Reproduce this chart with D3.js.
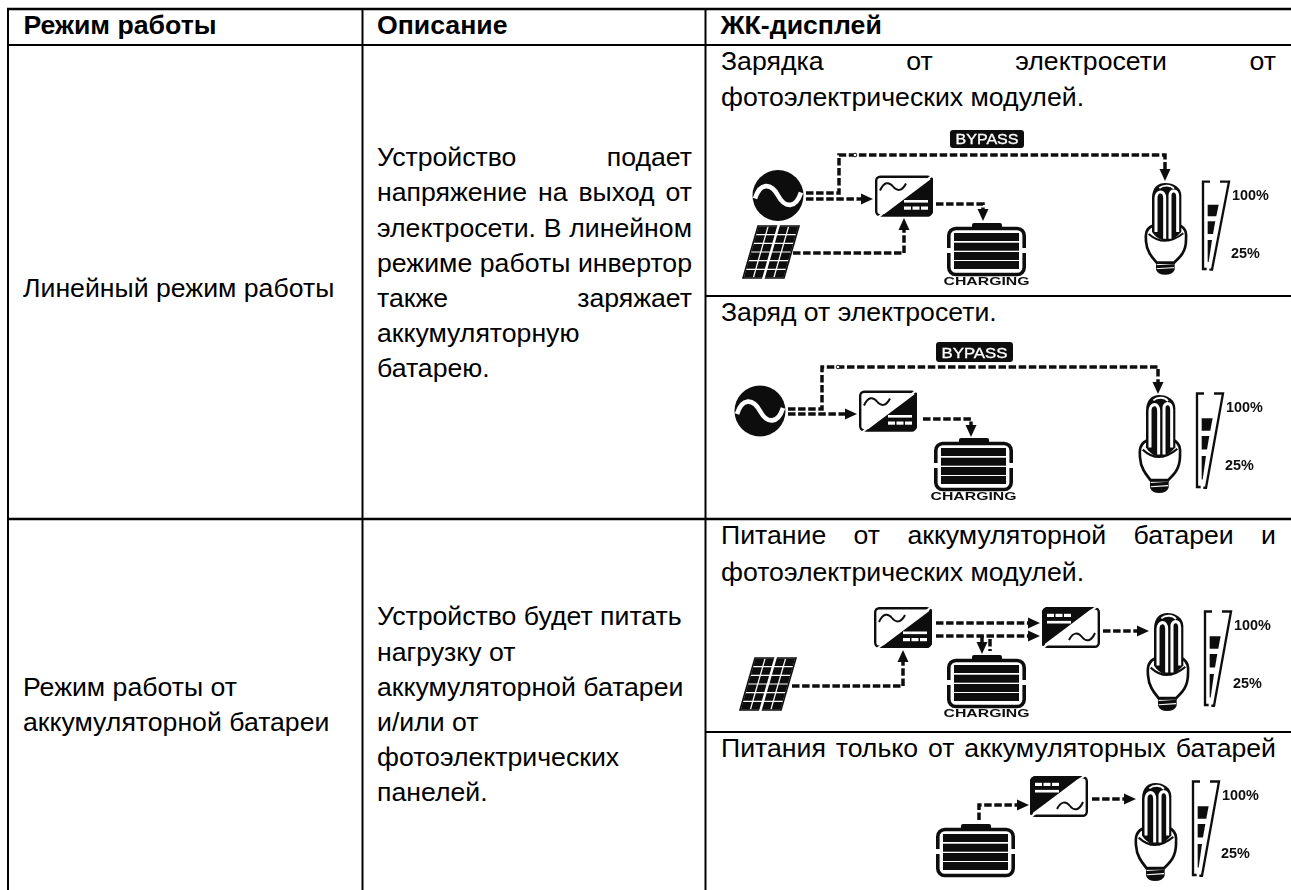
<!DOCTYPE html>
<html lang="ru">
<head>
<meta charset="utf-8">
<script src="https://cdn.jsdelivr.net/npm/d3@7"></script>
<style>
html,body{margin:0;padding:0;background:#fff;}
svg{display:block;}
text{font-family:"Liberation Sans",Arial,sans-serif;fill:#000;}
</style>
</head>
<body>
<div id="chart"></div>
<script>
// ---- table text ----
const headers = ["Режим работы", "Описание", "ЖК-дисплей"];
const modeLines = [["Линейный режим работы"], ["Режим работы от", "аккумуляторной батареи"]];
const descriptionLines = [
  ["Устройство подает", "напряжение на выход от", "электросети. В линейном", "режиме работы инвертор", "также заряжает", "аккумуляторную", "батарею."],
  ["Устройство будет питать", "нагрузку от", "аккумуляторной батареи", "и/или от", "фотоэлектрических", "панелей."]
];
const captionLines = [
  ["Зарядка от электросети от", "фотоэлектрических модулей."],
  ["Заряд от электросети."],
  ["Питание от аккумуляторной батареи и", "фотоэлектрических модулей."],
  ["Питания только от аккумуляторных батарей"]
];
const justifiedLines = ["Устройство подает", "напряжение на выход от", "электросети. В линейном", "режиме работы инвертор", "также заряжает",
  "Зарядка от электросети от", "Питание от аккумуляторной батареи и", "Питания только от аккумуляторных батарей"];
const bypassLabel = "BYPASS";
const chargingLabel = "CHARGING";
const levelLabels = ["100%", "25%"];

// ---- layout ----
const W = 1291, H = 890;
const colX = [8, 362.5, 705.5];
const rowY = {top: 9, head: 45, rowSplit: 519, bottom: 890};
const subY = [296, 732];
const font = 26.67;

const svg = d3.select("#chart").append("svg").attr("width", W).attr("height", H).attr("viewBox", `0 0 ${W} ${H}`);
const defs = svg.append("defs");
defs.append("filter").attr("id", "soft").attr("x", "-5%").attr("y", "-5%").attr("width", "110%").attr("height", "110%")
  .append("feGaussianBlur").attr("stdDeviation", 0.45);

// grid
const grid = svg.append("g").attr("stroke", "#000");
[[colX[0] - 1, W, rowY.top, 2.6], [colX[0], W, rowY.head, 1.8], [colX[0], W, rowY.rowSplit, 2.4], [colX[2], W, subY[0], 1.8], [colX[2], W, subY[1], 1.8]]
  .forEach(([a, b, y, sw]) => grid.append("line").attr("x1", a).attr("x2", b).attr("y1", y).attr("y2", y).attr("stroke-width", sw));
colX.forEach(x => grid.append("line").attr("x1", x).attr("x2", x).attr("y1", rowY.top).attr("y2", rowY.bottom).attr("stroke-width", 2));

const textG = svg.append("g");
function putLine(str, x, y, opts = {}) {
  if (opts.right !== undefined && justifiedLines.includes(str)) {
    const words = str.split(" ");
    const widths = words.map(w => {
      const t = textG.append("text").attr("font-size", font).text(w);
      const l = t.node().getComputedTextLength(); t.remove(); return l;
    });
    const gap = (opts.right - x - d3.sum(widths)) / (words.length - 1);
    let cx = x;
    words.forEach((w, i) => {
      textG.append("text").attr("x", cx).attr("y", y).attr("font-size", font).text(w);
      cx += widths[i] + gap;
    });
    return;
  }
  textG.append("text").attr("x", x).attr("y", y).attr("font-size", font)
    .attr("font-weight", opts.bold ? "bold" : null).text(str);
}

headers.forEach((h, i) => putLine(h, [23.5, 377, 720.5][i], 34, {bold: true}));
const modeBase = [[297], [696, 731]];
modeLines.forEach((ls, i) => ls.forEach((l, j) => putLine(l, 23, modeBase[i][j])));
const descBase = [[166, 201, 236.5, 272, 306.5, 342, 377], [625, 660.5, 695.5, 731, 766, 801]];
descriptionLines.forEach((ls, i) => ls.forEach((l, j) => putLine(l, 377, descBase[i][j], {right: 692})));
const capBase = [[70, 106], [321], [544, 581], [757]];
captionLines.forEach((ls, i) => ls.forEach((l, j) => putLine(l, 721, capBase[i][j], {right: 1276})));

// ---- diagram parts ----
const art = svg.append("g").attr("filter", "url(#soft)");
const INK = "#111";
const linePath = d3.line();

function flow(points, arrow = true) {
  const pts = points.slice();
  let tip, dir;
  if (arrow) {
    tip = pts[pts.length - 1];
    const p = pts[pts.length - 2];
    const len = Math.hypot(tip[0] - p[0], tip[1] - p[1]);
    dir = [(tip[0] - p[0]) / len, (tip[1] - p[1]) / len];
    pts[pts.length - 1] = [tip[0] - dir[0] * 10, tip[1] - dir[1] * 10];
  }
  art.append("path").attr("d", linePath(pts)).attr("fill", "none").attr("stroke", INK)
    .attr("stroke-width", 3.5).attr("stroke-dasharray", "7.5 2.6");
  if (arrow) {
    const n = [-dir[1], dir[0]], b = [tip[0] - dir[0] * 12, tip[1] - dir[1] * 12];
    art.append("path").attr("fill", INK)
      .attr("d", linePath([tip, [b[0] + n[0] * 5.5, b[1] + n[1] * 5.5], [b[0] - n[0] * 5.5, b[1] - n[1] * 5.5]]) + "Z");
  }
}

function acSource(cx, cy) {
  const g = art.append("g").attr("transform", `translate(${cx},${cy})`);
  g.append("circle").attr("r", 25.5).attr("fill", INK);
  g.append("path").attr("d", "M-23,3 C-18,-13 -7,-13 0,0 C7,13 18,13 23,-3").attr("fill", "none").attr("stroke", "#fff").attr("stroke-width", 4.6);
}

function inverter(x, y, flip) {
  const w = 58, h = 41;
  const g = art.append("g").attr("transform", `translate(${x},${y})` + (flip ? ` rotate(180 ${w / 2} ${h / 2})` : ""));
  g.append("rect").attr("x", 1.2).attr("y", 1.2).attr("width", w - 2.4).attr("height", h - 2.4).attr("rx", 4).attr("fill", "#fff").attr("stroke", INK).attr("stroke-width", 2.4);
  g.append("path").attr("fill", INK).attr("d", "M" + [[w, 2], [w, h - 4], [w - 4, h], [6, h]].join("L") + "Z");
  g.append("path").attr("stroke", "#fff").attr("stroke-width", 2.2).attr("d", "M0,44 L60,-2");
  g.append("path").attr("d", "M5,15 C9,6 14,6 18,11 C22,16 27,16 31,8")
    .attr("fill", "none").attr("stroke", INK).attr("stroke-width", 2);
  g.append("rect").attr("x", 29).attr("y", 24.5).attr("width", 24).attr("height", 2.6).attr("fill", "#fff");
  [29, 37.5, 46].forEach(bx => g.append("rect").attr("x", bx).attr("y", 31).attr("width", 7).attr("height", 3.2).attr("fill", "#fff"));
}

function battery(x, y, label) {
  const w = 79;
  const g = art.append("g").attr("transform", `translate(${x},${y})`);
  g.append("path").attr("fill", INK).attr("d", "M25,6 L25,2 Q25,0 27,0 L53,0 Q55,0 55,2 L55,6 Z");
  g.append("rect").attr("x", 1.8).attr("y", 5.5).attr("width", w - 3.6).attr("height", 46).attr("rx", 7).attr("fill", "#fff").attr("stroke", INK).attr("stroke-width", 3.6);
  g.append("rect").attr("x", -1).attr("y", 25).attr("width", w + 2).attr("height", 5).attr("fill", "#fff");
  [10, 19.7, 29, 38].forEach(by => g.append("rect").attr("x", 7).attr("y", by).attr("width", w - 14).attr("height", 8).attr("fill", INK));
  if (label) {
    g.append("text").attr("x", w / 2).attr("y", 62).attr("text-anchor", "middle").attr("font-size", 10.5).attr("font-weight", "bold")
      .attr("textLength", 86).attr("lengthAdjust", "spacingAndGlyphs").style("fill", INK).text(label);
  }
}

function solar(x, y) {
  // parallelogram 4 x 6 cell panel, (x, y) is the upper-left corner of its box
  const g = art.append("g").attr("transform", `translate(${x},${y})`);
  const skew = 15, w = 41, h = 52;
  const px = (u, v) => [skew * (1 - v) + w * u, h * v];
  g.append("path").attr("fill", "#fff").attr("stroke", INK).attr("stroke-width", 1.6)
    .attr("d", linePath([px(0, 0), px(1, 0), px(1, 1), px(0, 1)]) + "Z");
  const cols = 4, rows = 6, gapU = 0.016, gapV = 0.012;
  d3.range(cols).forEach(c => d3.range(rows).forEach(r => {
    const u0 = (c / cols) + gapU + (c === 2 ? 0.015 : 0), u1 = ((c + 1) / cols) - gapU - (c === 1 ? 0.015 : 0);
    const v0 = r / rows + gapV, v1 = (r + 1) / rows - gapV;
    g.append("path").attr("fill", INK).attr("d", linePath([px(u0, v0), px(u1, v0), px(u1, v1), px(u0, v1)]) + "Z");
  }));
  [[-0.03, 0.02], [0.98, 1.03]].forEach(([a, b]) =>
    g.append("path").attr("fill", "#fff").attr("d", linePath([px(0.47, a), px(0.53, a), px(0.53, b), px(0.47, b)]) + "Z"));
}

// bulb + level meter, drawn in thirds of a pixel, anchored on the bulb's upper-left corner
function lamp(x, y, sy = 1) {
  const g = art.append("g").attr("transform", `translate(${x},${y}) scale(${1 / 3},${sy / 3}) translate(-45,-25)`);
  // screw
  g.append("path").attr("fill", INK).attr("d", "M78,258 L134,258 L134,285 Q128,300 105,300 Q84,300 78,285 Z");
  [270, 282].forEach(s => g.append("path").attr("stroke", "#fff").attr("stroke-width", 3).attr("d", `M80,${s} L132,${s - 3}`));
  // base
  g.append("path").attr("fill", "#fff").attr("stroke", INK).attr("stroke-width", 8)
    .attr("d", "M66,154 C48,162 46,178 48,200 C50,232 68,250 80,264 L132,264 C150,248 168,232 168,196 C170,176 168,162 150,152 Z");
  g.append("path").attr("fill", "none").attr("stroke", INK).attr("stroke-width", 6)
    .attr("d", "M56,178 Q104,220 160,176");
  // tubes
  g.append("path").attr("fill", INK)
    .attr("d", "M66,172 L66,70 C66,38 84,25 106,25 C130,25 154,38 154,62 L154,172 C140,186 128,196 118,200 L96,196 C84,192 74,184 66,172 Z");
  g.append("path").attr("fill", "none").attr("stroke", "#fff").attr("stroke-width", 9)
    .attr("d", "M78,172 L78,70 C78,48 104,44 104,70 L104,192");
  g.append("path").attr("fill", "none").attr("stroke", "#fff").attr("stroke-width", 9)
    .attr("d", "M120,192 L120,62 C120,44 143,44 143,66 L143,172");
  g.append("path").attr("fill", "none").attr("stroke", "#fff").attr("stroke-width", 5)
    .attr("d", "M88,40 C100,30 122,30 132,42");
  // meter
  g.append("path").attr("fill", "none").attr("stroke", INK).attr("stroke-width", 7)
    .attr("d", "M240,21 L219,21 L219,283 L230,283");
  g.append("path").attr("fill", "none").attr("stroke", INK).attr("stroke-width", 7)
    .attr("d", "M270,21 L297,21 L246,285 L238,285");
  g.append("path").attr("fill", INK).attr("d", "M233,90 L266,90 L259,125 L233,125 Z");
  g.append("path").attr("fill", INK).attr("d", "M233,140 L256,140 L249,178 L233,178 Z");
  g.append("path").attr("fill", INK).attr("d", "M233,196 L246,196 L236,262 L233,262 Z");
  // labels are set in real pixels so their shape stays upright
  const tg = art.append("g").attr("transform", `translate(${x},${y})`);
  tg.append("text").attr("x", 87).attr("y", 16.5).attr("font-size", 14.4).attr("font-weight", "bold").style("fill", INK).text(levelLabels[0]);
  tg.append("text").attr("x", 86).attr("y", 74.5).attr("font-size", 14.4).attr("font-weight", "bold").style("fill", INK).text(levelLabels[1]);
}

function bypass(x, y, w, h) {
  art.append("rect").attr("x", x).attr("y", y).attr("width", w).attr("height", h).attr("rx", 3).attr("fill", INK);
  art.append("text").attr("x", x + w / 2).attr("y", y + h - 4).attr("text-anchor", "middle").attr("font-size", 14)
    .style("fill", "#fff").attr("stroke", "#fff").attr("stroke-width", 0.3)
    .attr("textLength", w - 11).attr("lengthAdjust", "spacingAndGlyphs").text(bypassLabel);
}

function tapDot(x, y) {
  art.append("circle").attr("cx", x).attr("cy", y).attr("r", 1.8).attr("fill", "#fff").attr("stroke", INK).attr("stroke-width", 0.9);
}

// ---- diagram 1 : grid + PV charging ----
bypass(950, 130, 74, 18);
acSource(778, 195.5);
flow([[806, 193], [839, 193], [839, 155], [1165, 155], [1165, 181]]);
tapDot(855, 155);
flow([[806, 199], [873, 199]]);
inverter(875, 175.5, false);
flow([[936, 204], [983, 204], [983, 221]]);
battery(947, 223, chargingLabel);
solar(743, 226);
flow([[793, 253], [904, 253], [904, 218]]);
lamp(1145, 183);

// ---- diagram 2 : grid charging ----
bypass(936, 342, 77, 20);
acSource(760, 411);
flow([[788, 409], [822, 409], [822, 367], [1158, 367], [1158, 394]]);
tapDot(838, 367);
flow([[788, 414], [857, 414]]);
inverter(859, 390.5, false);
flow([[923, 419], [971, 419], [971, 437]]);
battery(934, 438, chargingLabel);
lamp(1139, 395, 1.07);

// ---- diagram 3 : battery and PV ----
inverter(874, 607, false);
inverter(1042, 607, true);
flow([[936, 623], [1040, 623]]);
flow([[936, 636], [1040, 636]]);
battery(947, 655, chargingLabel);
flow([[982, 636], [982, 654]]);
flow([[990, 639], [990, 651]], false);
flow([[1103, 631], [1149, 631]]);
solar(740, 658);
flow([[792, 686], [903, 686], [903, 650]]);
lamp(1147, 613, 1.07);

// ---- diagram 4 : battery only ----
inverter(1030, 776, true);
battery(936, 824, null);
flow([[979, 820], [979, 805], [1029, 805]]);
flow([[1092, 799], [1136, 799]]);
lamp(1135, 783, 1.07);
</script>
</body>
</html>
